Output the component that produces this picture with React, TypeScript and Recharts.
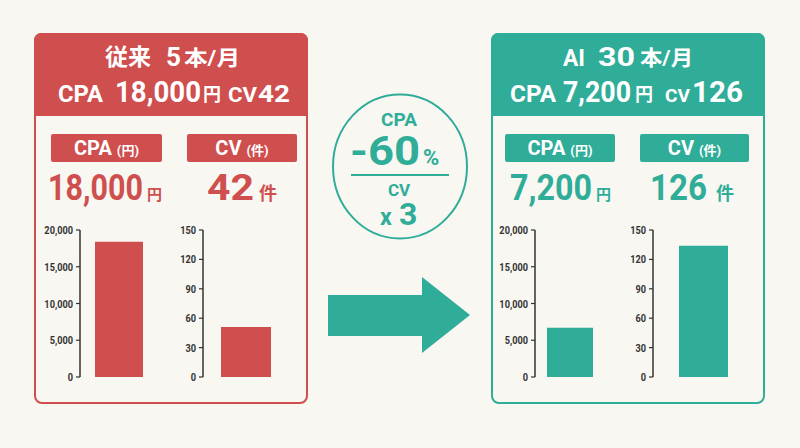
import React from 'react';
import { BarChart, Bar, XAxis, YAxis } from 'recharts';

const RED = '#cf4e4e';
const TEAL = '#30ad99';
const BG = '#f8f7f2';
const INK = '#333333';
const FONT = "Roboto, 'Noto Sans CJK JP', sans-serif";

// values
const categories = ['従来', 'AI'];
const postsPerMonth = ['5', '30'];
const cpaText = ['18,000', '7,200'];
const cvText = ['42', '126'];
const cpaBars = [18400, 6700];
const cvBars = [51, 134];
const cpaTicks = [0, 5000, 10000, 15000, 20000];
const cvTicks = [0, 30, 60, 90, 120, 150];
const cpaChange = '-60';
const cvChange = '3';

const fmt = (v: number) => v.toLocaleString('en-US');

// narrow tick labels, like the condensed face in the reference
function NarrowTick(props: any) {
  const { x, y, payload } = props;
  return (
    <g transform={`translate(${x},${y}) scale(0.8,1)`}>
      <text x={0} y={0} dy={4} textAnchor="end" fill={INK} fontSize={11.5} fontWeight={700} fontFamily="Roboto, sans-serif">
        {fmt(payload.value)}
      </text>
    </g>
  );
}

type MiniProps = {
  left: number;
  top: number;
  width: number;
  axisWidth: number;
  value: number;
  name: string;
  ticks: number[];
  color: string;
  barSize: number;
  pad?: { left: number; right: number };
};

function MiniBar({ left, top, width, axisWidth, value, name, ticks, color, barSize, pad }: MiniProps) {
  const data = [{ name, value }];
  return (
    <div style={{ position: 'absolute', left, top }}>
      <BarChart width={width} height={165} data={data} margin={{ top: 10, right: 2, left: 0, bottom: 8 }}>
        <XAxis
          dataKey="name"
          tick={false}
          tickLine={false}
          height={0}
          padding={pad || { left: 0, right: 0 }}
          axisLine={{ stroke: INK, strokeWidth: 1.5 }}
        />
        <YAxis
          width={axisWidth}
          domain={[0, ticks[ticks.length - 1]]}
          ticks={ticks}
          interval={0}
          tickSize={4}
          tickMargin={3}
          axisLine={{ stroke: INK, strokeWidth: 1.5 }}
          tickLine={{ stroke: INK, strokeWidth: 1.2 }}
          tick={<NarrowTick />}
        />
        <Bar dataKey="value" fill={color} barSize={barSize} isAnimationActive={false} />
      </BarChart>
    </div>
  );
}

function T({ x, y, size, len, children, anchor }: { x: number; y: number; size: number; len?: number; children: React.ReactNode; anchor?: string }) {
  return (
    <text
      x={x}
      y={y}
      fontSize={size}
      textAnchor={anchor as any}
      textLength={len}
      lengthAdjust={len ? 'spacingAndGlyphs' : undefined}
    >
      {children}
    </text>
  );
}

function Panel({ x, w, color }: { x: number; w: number; color: string }) {
  return (
    <g>
      <rect x={x} y={34} width={w} height={369} rx={7} fill={BG} stroke={color} strokeWidth={2} />
      <rect x={x - 1} y={33} width={w + 2} height={83} rx={7} fill={color} />
      <rect x={x - 1} y={100} width={w + 2} height={16} fill={color} />
    </g>
  );
}

function LabelBox({ x, w, color, main, unit }: { x: number; w: number; color: string; main: string; unit: string }) {
  return (
    <g>
      <rect x={x} y={134} width={w} height={28} rx={2} fill={color} />
      <text x={x + w / 2} y={155} textAnchor="middle" fill="#fff" fontFamily={FONT} fontWeight={700}>
        <tspan fontSize={20}>{main}</tspan>
        <tspan fontSize={13} dx={5}>({unit})</tspan>
      </text>
    </g>
  );
}

export default function App() {
  return (
    <div style={{ position: 'fixed', left: 0, top: 0, width: 800, height: 448, background: BG, overflow: 'hidden' }}>
      <svg width={800} height={448} style={{ position: 'absolute', left: 0, top: 0 }} fontFamily={FONT} fontWeight={700}>
        <Panel x={35} w={272} color={RED} />
        <Panel x={492} w={272} color={TEAL} />

        {/* left header */}
        <g fill="#fff">
          <T x={105} y={65} size={23} len={46}>{categories[0]}</T>
          <T x={166} y={66} size={26} len={15}>{postsPerMonth[0]}</T>
          <T x={184} y={65} size={21} len={56}>本/月</T>
          <T x={58} y={102} size={23} len={45}>CPA</T>
          <T x={115} y={102} size={29} len={86}>{cpaText[0]}</T>
          <T x={203} y={101} size={18}>円</T>
          <T x={228} y={102} size={21} len={29}>CV</T>
          <T x={258} y={102} size={23} len={32}>{cvText[0]}</T>
        </g>

        {/* right header */}
        <g fill="#fff">
          <T x={563} y={66} size={24} len={22}>{categories[1]}</T>
          <T x={598} y={66} size={25} len={37}>{postsPerMonth[1]}</T>
          <T x={640} y={65} size={21} len={53}>本/月</T>
          <T x={510} y={102} size={23} len={46}>CPA</T>
          <T x={563} y={102} size={29} len={68}>{cpaText[1]}</T>
          <T x={635} y={101} size={18}>円</T>
          <T x={665} y={102} size={19} len={25}>CV</T>
          <T x={692} y={102} size={29} len={51}>{cvText[1]}</T>
        </g>

        <LabelBox x={51} w={111} color={RED} main="CPA" unit="円" />
        <LabelBox x={187} w={110} color={RED} main="CV" unit="件" />
        <LabelBox x={505} w={110} color={TEAL} main="CPA" unit="円" />
        <LabelBox x={640} w={109} color={TEAL} main="CV" unit="件" />

        {/* big figures */}
        <g fill={RED}>
          <T x={48} y={200} size={37} len={95}>{cpaText[0]}</T>
          <T x={147} y={200} size={15}>円</T>
          <T x={207} y={200} size={37} len={47}>{cvText[0]}</T>
          <T x={259} y={200} size={18}>件</T>
        </g>
        <g fill={TEAL}>
          <T x={510} y={200} size={37} len={82}>{cpaText[1]}</T>
          <T x={596} y={200} size={15}>円</T>
          <T x={650} y={200} size={37} len={57}>{cvText[1]}</T>
          <T x={716} y={200} size={18}>件</T>
        </g>

        {/* summary badge */}
        <ellipse cx={400} cy={166.5} rx={67} ry={72} fill="none" stroke={TEAL} strokeWidth={2} />
        <g fill={TEAL}>
          <T x={399} y={126} size={19} anchor="middle">CPA</T>
          <T x={350} y={165} size={40} len={70}>{cpaChange}</T>
          <T x={423} y={165} size={22}>%</T>
          <line x1={351} x2={449} y1={175} y2={175} stroke={TEAL} strokeWidth={2} />
          <T x={399} y={196} size={17} anchor="middle">CV</T>
          <T x={380} y={225} size={23}>x</T>
          <T x={399} y={225} size={32}>{cvChange}</T>
        </g>

        <polygon points="328,295 422,295 422,277 470,315 422,353 422,336 328,336" fill={TEAL} />
      </svg>

      <MiniBar left={30} top={220} width={129} axisWidth={50} value={cpaBars[0]} name={categories[0]} ticks={cpaTicks} color={RED} barSize={48} />
      <MiniBar left={165} top={220} width={126} axisWidth={38} value={cvBars[0]} name={categories[0]} ticks={cvTicks} color={RED} barSize={50} />
      <MiniBar left={485} top={220} width={126} axisWidth={50} value={cpaBars[1]} name={categories[1]} ticks={cpaTicks} color={TEAL} barSize={46} pad={{ left: 0, right: 4 }} />
      <MiniBar left={615} top={220} width={127} axisWidth={38} value={cvBars[1]} name={categories[1]} ticks={cvTicks} color={TEAL} barSize={49} pad={{ left: 13, right: 0 }} />
    </div>
  );
}
